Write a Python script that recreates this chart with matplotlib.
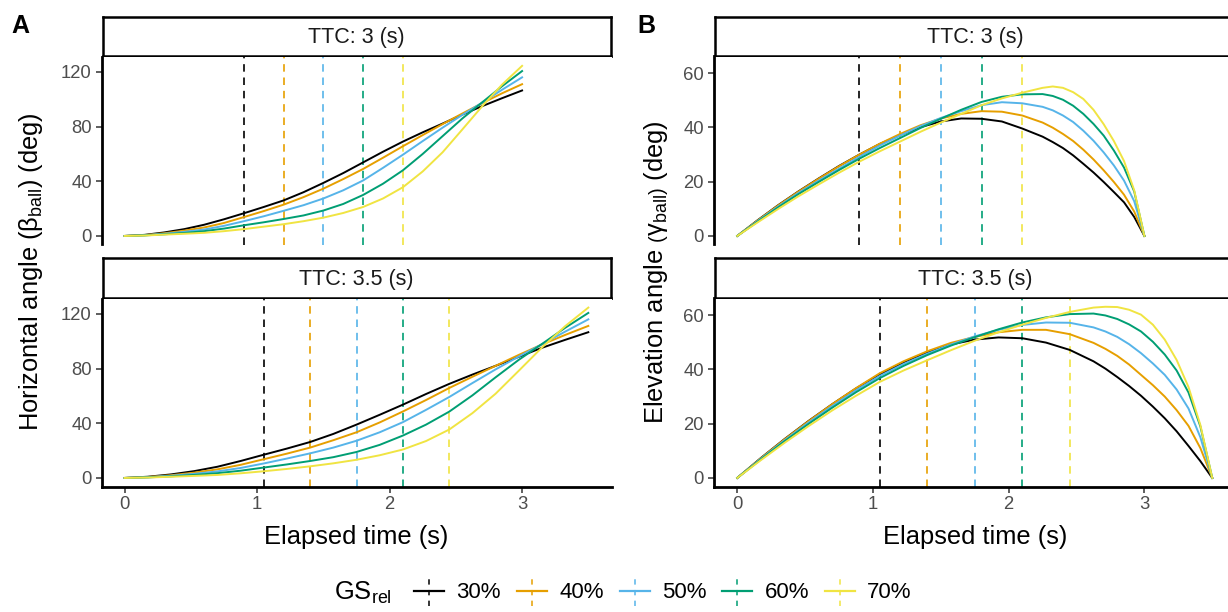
import numpy as np
import matplotlib
matplotlib.use('Agg')
import matplotlib.pyplot as plt
from matplotlib.lines import Line2D
from matplotlib.legend_handler import HandlerBase

plt.rcParams['font.family'] = ['Liberation Sans', 'DejaVu Sans']
plt.rcParams['mathtext.fontset'] = 'custom'
plt.rcParams['mathtext.rm'] = 'Liberation Sans'
plt.rcParams['mathtext.it'] = 'Liberation Sans:italic'
plt.rcParams['mathtext.bf'] = 'Liberation Sans:bold'

# ---- data ----
gs_labels = ['30%', '40%', '50%', '60%', '70%']
gs_colors = ['#000000', '#E69F00', '#56B4E9', '#009E73', '#F0E442']

vline_ttc3 = [0.9, 1.2, 1.5, 1.8, 2.1]
vline_ttc35 = [1.05, 1.4, 1.75, 2.1, 2.45]

# horizontal angle (beta_ball)
time_beta3 = np.linspace(0, 3.0, 21)
time_beta35 = np.linspace(0, 3.5, 21)
beta_ttc3 = [
    [0, 0.8, 2.6, 5.0, 8.2, 12.2, 16.6, 21.2, 26.0, 32.0, 38.8, 46.0, 53.8, 61.6, 69.0, 75.8, 82.2, 88.8, 95.0, 100.8, 106.4],
    [0, 0.6, 2.0, 3.9, 6.2, 9.5, 13.8, 18.2, 22.9, 28.4, 34.6, 41.6, 49.0, 57.2, 65.6, 73.8, 81.8, 89.6, 97.2, 104.4, 111.0],
    [0, 0.5, 1.6, 3.0, 4.7, 7.4, 10.8, 14.4, 18.4, 22.5, 27.4, 33.4, 40.6, 49.8, 59.4, 69.4, 79.2, 88.6, 97.6, 107.0, 116.0],
    [0, 0.4, 1.2, 2.2, 3.5, 5.4, 7.8, 10.0, 12.4, 15.0, 18.6, 23.4, 30.0, 38.2, 48.0, 60.0, 73.0, 86.0, 97.8, 109.6, 120.6],
    [0, 0.3, 1.0, 1.6, 2.3, 3.5, 5.0, 6.8, 8.6, 10.8, 13.4, 16.8, 21.2, 27.4, 35.6, 47.2, 61.2, 78.0, 95.0, 110.8, 124.4],
]
beta_ttc35 = [
    [0, 0.9, 2.6, 5.0, 8.2, 12.4, 17.0, 21.5, 26.3, 32.2, 39.0, 46.2, 53.6, 61.4, 68.8, 75.6, 82.0, 88.6, 95.2, 101.0, 106.6],
    [0, 0.7, 2.0, 3.9, 6.3, 9.6, 13.7, 17.8, 22.2, 27.6, 33.4, 40.6, 48.6, 57.0, 65.8, 74.0, 82.0, 90.0, 97.6, 104.6, 111.2],
    [0, 0.5, 1.6, 3.0, 4.8, 7.3, 10.6, 14.2, 18.0, 22.2, 27.2, 33.4, 40.8, 49.8, 59.2, 69.4, 79.4, 88.8, 97.8, 107.0, 116.0],
    [0, 0.4, 1.2, 2.2, 3.5, 5.3, 7.6, 9.9, 12.4, 15.2, 19.0, 24.2, 31.0, 39.0, 48.5, 60.4, 73.6, 86.4, 98.0, 109.8, 120.7],
    [0, 0.3, 0.9, 1.5, 2.2, 3.4, 4.9, 6.6, 8.5, 10.7, 13.3, 16.6, 20.8, 27.0, 35.4, 47.4, 61.6, 78.4, 95.4, 111.0, 124.6],
]

# elevation angle (gamma_ball), finer sampling around the peak and the drop to zero
time_gamma3 = [0, 0.15, 0.3, 0.45, 0.6, 0.75, 0.9, 1.05, 1.2, 1.35, 1.5, 1.65, 1.8, 1.95, 2.1,
               2.25, 2.325, 2.4, 2.475, 2.55, 2.625, 2.7, 2.775, 2.85, 2.925, 3.0]
gamma_ttc3 = [
    [0, 5.8, 11.3, 16.4, 21.2, 25.8, 30.0, 33.9, 37.2, 40.1, 42.2, 43.3, 43.2, 42.2, 39.6,
     36.6, 34.6, 32.4, 29.7, 26.6, 23.4, 19.9, 16.2, 12.4, 7.0, 0],
    [0, 5.7, 11.2, 16.3, 21.1, 25.7, 30.0, 34.0, 37.6, 40.8, 43.3, 45.0, 46.0, 45.8, 44.4,
     41.8, 39.9, 37.6, 35.0, 31.8, 28.2, 24.2, 19.9, 15.2, 9.0, 0],
    [0, 5.5, 10.8, 15.8, 20.4, 24.8, 29.2, 33.3, 37.0, 40.5, 43.5, 46.0, 48.2, 49.3, 48.9,
     47.6, 46.3, 44.4, 42.0, 38.8, 35.1, 30.8, 26.0, 20.4, 12.8, 0],
    [0, 5.3, 10.5, 15.4, 19.9, 24.3, 28.5, 32.4, 36.1, 39.8, 43.2, 46.5, 49.4, 51.3, 52.2,
     52.3, 51.6, 50.2, 48.0, 45.0, 41.3, 37.0, 31.5, 25.2, 16.4, 0],
    [0, 5.0, 9.9, 14.6, 19.0, 23.3, 27.4, 31.2, 34.8, 38.4, 41.8, 45.0, 48.2, 50.7, 52.8,
     54.6, 55.1, 54.6, 53.0, 50.5, 46.5, 41.2, 35.0, 27.6, 16.8, 0],
]
time_gamma35 = [0, 0.175, 0.35, 0.525, 0.7, 0.875, 1.05, 1.225, 1.4, 1.575, 1.75, 1.925, 2.1,
                2.275, 2.45, 2.625, 2.7125, 2.8, 2.8875, 2.975, 3.0625, 3.15, 3.2375, 3.325,
                3.4125, 3.5]
gamma_ttc35 = [
    [0, 7.4, 14.4, 21.0, 27.2, 33.0, 38.2, 42.6, 46.3, 49.2, 51.0, 51.8, 51.5,
     49.9, 47.2, 43.0, 40.3, 37.2, 33.9, 30.3, 26.3, 22.0, 17.2, 11.8, 6.2, 0],
    [0, 7.3, 14.3, 20.9, 27.2, 33.1, 38.6, 43.0, 46.7, 49.8, 52.0, 53.7, 54.6,
     54.6, 53.0, 49.8, 47.6, 45.0, 41.8, 38.0, 34.2, 30.0, 25.0, 19.2, 11.0, 0],
    [0, 7.1, 13.9, 20.4, 26.5, 32.3, 37.6, 42.0, 45.8, 49.2, 52.2, 54.6, 56.4,
     57.3, 57.2, 55.5, 54.0, 52.0, 49.3, 46.0, 42.2, 38.0, 32.6, 25.6, 15.0, 0],
    [0, 6.9, 13.6, 19.9, 25.9, 31.6, 36.8, 41.3, 45.3, 48.8, 51.9, 54.8, 57.3,
     59.2, 60.4, 60.6, 59.9, 58.6, 56.6, 54.0, 50.2, 45.5, 39.6, 31.5, 19.0, 0],
    [0, 6.6, 13.0, 19.1, 24.9, 30.3, 35.4, 39.6, 43.4, 47.1, 50.6, 53.7, 56.5,
     59.0, 61.2, 62.8, 63.1, 63.0, 62.0, 60.2, 56.5, 51.0, 43.5, 33.5, 19.5, 0],
]

# ---- layout (pixel based) ----
W, H = 1228, 612
fig = plt.figure(figsize=(W / 100, H / 100), dpi=100)


def px_axes(x0, x1, y0, y1):
    return fig.add_axes([x0 / W, 1 - y1 / H, (x1 - x0) / W, (y1 - y0) / H])


DASH = (0, (4.5, 3.5))
AXLW = 2.0


def strip(x0, x1, y0, y1, text):
    sax = px_axes(x0, x1, y0, y1)
    sax.set_xticks([])
    sax.set_yticks([])
    for s in sax.spines.values():
        s.set_linewidth(1.8)
        s.set_color('black')
    sax.text(0.5, 0.47, text, ha='center', va='center', fontsize=15.5,
             color='#1A1A1A', transform=sax.transAxes)


def panel(x0, x1, y0, y1, t, curves, vlines, ylim, yticks, bottom):
    ax = px_axes(x0, x1, y0, y1)
    for vx, c in zip(vlines, gs_colors):
        ax.axvline(vx, color=c, lw=1.2, ls=DASH)
    for vals, c in zip(curves, gs_colors):
        ax.plot(t, vals, color=c, lw=1.4, solid_joinstyle='round')
    ax.set_xlim(-0.175, 3.675)
    ax.set_ylim(*ylim)
    ax.set_yticks(yticks)
    ax.set_xticks([0, 1, 2, 3])
    ax.spines['top'].set_visible(False)
    ax.spines['right'].set_visible(False)
    ax.spines['left'].set_linewidth(AXLW)
    ax.spines['bottom'].set_linewidth(AXLW)
    ax.tick_params(direction='out', length=4, width=1.1, color='#333333',
                   labelcolor='#4D4D4D', labelsize=13.3, pad=3)
    if not bottom:
        ax.spines['bottom'].set_visible(False)
        ax.tick_params(axis='x', bottom=False, labelbottom=False)
    return ax


# column A
ax_l, ax_r = 101.5, 611.5
strip(ax_l + 1, ax_r - 1, 17, 56, 'TTC: 3 (s)')
panel(ax_l, ax_r, 56.5, 244.5, time_beta3, beta_ttc3, vline_ttc3,
      (-6.25, 131.25), [0, 40, 80, 120], False)
strip(ax_l + 1, ax_r - 1, 258, 298, 'TTC: 3.5 (s)')
panel(ax_l, ax_r, 298.5, 486.5, time_beta35, beta_ttc35, vline_ttc35,
      (-6.25, 131.25), [0, 40, 80, 120], True)

# column B (runs past the right edge, as in the reference)
bx_l, bx_r = 713.5, 1236
strip(bx_l + 1, bx_r, 17, 56, 'TTC: 3 (s)')
panel(bx_l, bx_r, 56.5, 244.5, time_gamma3, gamma_ttc3, vline_ttc3,
      (-3.15, 66.15), [0, 20, 40, 60], False)
strip(bx_l + 1, bx_r, 258, 298, 'TTC: 3.5 (s)')
panel(bx_l, bx_r, 298.5, 486.5, time_gamma35, gamma_ttc35, vline_ttc35,
      (-3.15, 66.15), [0, 20, 40, 60], True)

# axis titles
fig.text(31 / W, 1 - 272 / H, r'Horizontal angle $\left(\mathrm{\beta_{ball}}\right)$ (deg)',
         rotation=90, ha='center', va='center', fontsize=18.4)
fig.text(656 / W, 1 - 272 / H, r'Elevation angle $\left(\mathrm{\gamma_{ball}}\right)$ (deg)',
         rotation=90, ha='center', va='center', fontsize=18.4)
fig.text((ax_l + ax_r) / 2 / W, 1 - 537 / H, 'Elapsed time (s)',
         ha='center', va='center', fontsize=18.4)
fig.text((bx_l + bx_r) / 2 / W, 1 - 537 / H, 'Elapsed time (s)',
         ha='center', va='center', fontsize=18.4)

# panel tags
fig.text(11 / W, 1 - 26 / H, 'A', fontsize=18, fontweight='bold', va='center')
fig.text(637 / W, 1 - 26 / H, 'B', fontsize=18, fontweight='bold', va='center')


# legend: solid line crossed by a dashed vertical, like ggplot's combined key
class LineVlineHandler(HandlerBase):
    def create_artists(self, legend, orig_handle, xdescent, ydescent,
                       width, height, fontsize, trans):
        c = orig_handle.get_color()
        yc = height / 2 - ydescent
        xc = width / 2 - xdescent
        h = Line2D([-xdescent, width - xdescent], [yc, yc], color=c, lw=1.6,
                   transform=trans)
        v = Line2D([xc, xc], [yc - height * 1.0, yc + height * 1.0], color=c,
                   lw=1.1, ls=(0, (3.5, 3.5)), transform=trans)
        return [h, v]


handles = [Line2D([], [], color=c) for c in gs_colors]
fig.legend(handles, gs_labels, handler_map={Line2D: LineVlineHandler()},
           loc='center', bbox_to_anchor=(663 / W, 1 - 593 / H), ncol=5,
           frameon=False, fontsize=16, handlelength=1.35, handletextpad=0.55,
           columnspacing=0.72)
fig.text(334 / W, 1 - 593 / H, r'GS$_{\mathrm{rel}}$', fontsize=18.4,
         ha='left', va='center')

fig.savefig('out.png', dpi=100)
